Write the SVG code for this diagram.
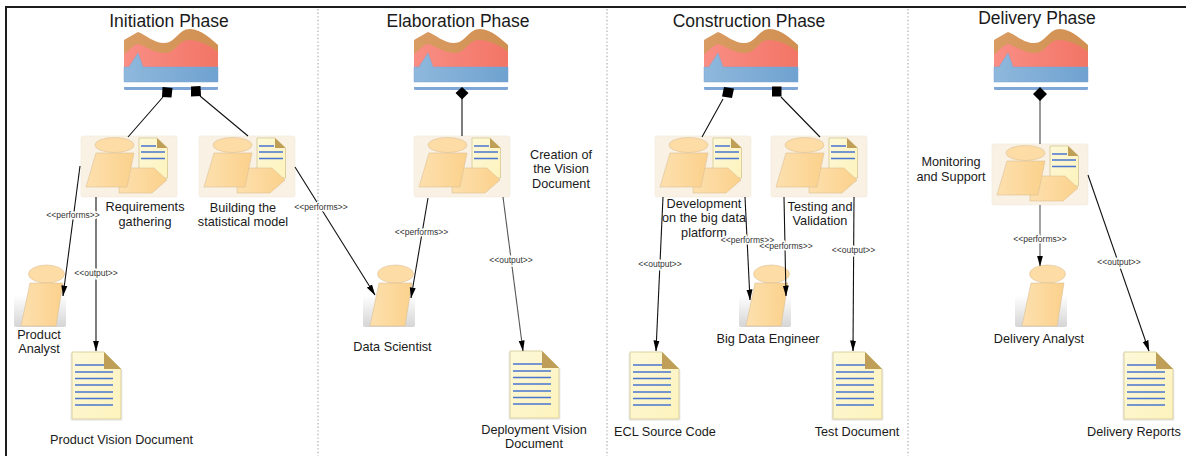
<svg xmlns="http://www.w3.org/2000/svg" width="1186" height="456" viewBox="0 0 1186 456">
<style>
text{font-family:"Liberation Sans",Arial,sans-serif;fill:#1a1a1a}
.t{font-size:17.500px;text-anchor:middle}
.n{font-size:12.700px;text-anchor:middle}
.e{font-size:8.500px;text-anchor:middle;stroke:#fff;stroke-width:3px;paint-order:stroke;fill:#333}
.c{fill:none;stroke:#111;stroke-width:1.100}
.g{fill:none;stroke:#555;stroke-width:1.200}
.a{fill:none;stroke:#111;stroke-width:1.100;marker-end:url(#arr)}
.sep{stroke:#bbb;stroke-width:1.400;stroke-dasharray:1.400 2.200}
.y{fill:url(#gy);stroke:#dcc095;stroke-width:.6}
.e2{fill:#fddca6;stroke:#dcc095;stroke-width:.6}
.d{fill:url(#gd);stroke:#cfc288;stroke-width:.7}
.l{stroke:#4a76cf;stroke-width:1.500;fill:none}
</style>
<defs>
<linearGradient id="gy"><stop offset="0" stop-color="#fde0ae"/><stop offset="1" stop-color="#fbd18c"/></linearGradient>
<linearGradient id="gd" x1="0" y1="0" x2="1" y2="1"><stop offset="0" stop-color="#fdf8d8"/><stop offset="1" stop-color="#fdf3bd"/></linearGradient>
<linearGradient id="gb"><stop offset="0" stop-color="#8fb8dc"/><stop offset="1" stop-color="#6fa2d0"/></linearGradient>
<linearGradient id="gr"><stop offset="0" stop-color="#f98e85"/><stop offset="1" stop-color="#f27566"/></linearGradient>
<linearGradient id="go"><stop offset="0" stop-color="#d99c62"/><stop offset="1" stop-color="#d19052"/></linearGradient>
<linearGradient id="gs" x1="0" y1="0" x2="0" y2="1"><stop offset="0" stop-color="#fff"/><stop offset="1" stop-color="#d5d5d5"/></linearGradient>
<marker id="arr" markerUnits="userSpaceOnUse" markerWidth="11" markerHeight="7" refX="10.500" refY="3.500" orient="auto" viewBox="0 0 11 7"><path d="M0 .5L11 3.500 0 6.500Z" fill="#000"/></marker>
<g id="phase">
<path d="M0 11C5 8 10 5 14 3C22 6 30 14 40 14C52 14 54 0 66 0C77 0 87 10 94 16V53H0Z" fill="url(#go)"/>
<path d="M0 25C5 22 9 16 14 15C22 17 30 24 41 24C52 24 54 11 65 11C75 11 87 17 94 23V53H0Z" fill="url(#gr)"/>
<path d="M0 38H5L14 24 19 38H94V53H0Z" fill="url(#gb)" stroke="#7ea3d6" stroke-width=".5"/>
<path d="M0 58H94V60Q94 61 92 61H2Q0 61 0 60Z" fill="#7ea7d8"/>
</g>
<g id="task">
<rect x="0" y="0" width="96" height="61" rx="2" fill="#f9f1e3" stroke="#f1eadc" stroke-width=".6"/>
<ellipse cx="33.500" cy="9" rx="19.500" ry="7.500" class="e2"/>
<path d="M58 2H76L86.500 12V42H58Z" class="d"/>
<path d="M76 2L86.500 12H76Z" fill="#bf9f57"/>
<path d="M60 10H75M60 16H84M60 22.500H84" class="l"/>
<path d="M38 32H73L86 44 71 57H38Z" class="y"/>
<path d="M15 17H53L46 51H5Z" class="y"/>
</g>
<g id="actor">
<rect x="0" y="30" width="52" height="32" rx="2" fill="url(#gs)"/>
<ellipse cx="32.500" cy="9" rx="18" ry="9" class="e2"/>
<path d="M16 18H49L42 61H7Z" class="y"/>
</g>
<g id="doc">
<path d="M-1.500 1H32L50.500 18V69H-1.500Z" fill="#eee"/>
<path d="M0 0H32L49 17V67H0Z" class="d"/>
<path d="M32 0L49 17H32Z" fill="#bf9f57"/>
<path d="M3 13H32M3 20H41M3 26.500H41M3 33H41M3 40H41M3 46.500H41M3 53H41" class="l"/>
</g>
</defs>
<rect width="1186" height="456" fill="#fff"/>
<path d="M6 456V7H1186" fill="none" stroke="#1c1c1c" stroke-width="2"/>
<path class="sep" d="M318 9V456M607 9V456M908 9V456"/>

<g id="phase-initiation"><use href="#phase" x="124" y="29"/><text class="t" x="169" y="27">Initiation Phase</text></g>
<g id="phase-elaboration"><use href="#phase" x="414" y="29"/><text class="t" x="458" y="27">Elaboration Phase</text></g>
<g id="phase-construction"><use href="#phase" x="704" y="29"/><text class="t" x="749" y="27">Construction Phase</text></g>
<g id="phase-delivery"><use href="#phase" x="994" y="29"/><text class="t" x="1037" y="24">Delivery Phase</text></g>

<g id="task-requirements"><use href="#task" x="81" y="136"/><text class="n" x="145" y="211">Requirements</text><text class="n" x="145" y="226">gathering</text></g>
<g id="task-building"><use href="#task" x="199" y="136"/><text class="n" x="243" y="212">Building the</text><text class="n" x="243" y="226">statistical model</text></g>
<g id="task-vision"><use href="#task" x="414" y="136"/><text class="n" x="561" y="159">Creation of</text><text class="n" x="561" y="173">the Vision</text><text class="n" x="561" y="188">Document</text></g>
<g id="task-development"><use href="#task" x="655" y="136"/><text class="n" x="704" y="208">Development</text><text class="n" x="704" y="222">on the big data</text><text class="n" x="704" y="237">platform</text></g>
<g id="task-testing"><use href="#task" x="771" y="136"/><text class="n" x="820" y="211">Testing and</text><text class="n" x="820" y="225">Validation</text></g>
<g id="task-monitoring"><use href="#task" x="992" y="144"/><text class="n" x="951" y="166">Monitoring</text><text class="n" x="951" y="181">and Support</text></g>

<g id="actor-product"><use href="#actor" x="14" y="265"/><text class="n" x="39" y="339">Product</text><text class="n" x="39" y="353">Analyst</text></g>
<g id="actor-scientist"><use href="#actor" x="363" y="265"/><text class="n" x="392.500" y="351">Data Scientist</text></g>
<g id="actor-engineer"><use href="#actor" x="739" y="265"/><text class="n" x="768" y="343">Big Data Engineer</text></g>
<g id="actor-delivery"><use href="#actor" x="1015" y="265"/><text class="n" x="1039" y="343">Delivery Analyst</text></g>

<g id="doc-product"><use href="#doc" x="72" y="352"/><text class="n" x="121.500" y="444">Product Vision Document</text></g>
<g id="doc-deployment"><use href="#doc" x="510" y="351"/><text class="n" x="534" y="434">Deployment Vision</text><text class="n" x="534" y="448">Document</text></g>
<g id="doc-ecl"><use href="#doc" x="630" y="352"/><text class="n" x="665" y="436">ECL Source Code</text></g>
<g id="doc-test"><use href="#doc" x="833" y="352"/><text class="n" x="857" y="436">Test Document</text></g>
<g id="doc-reports"><use href="#doc" x="1124" y="352"/><text class="n" x="1134" y="436">Delivery Reports</text></g>

<g id="connectors">
<path class="c" d="M163 97L128 137M200 96L248 136M462 97V136M723 99L702 137M781 97L820 137"/>
<path class="g" d="M1040 98V144"/>
<path fill="#000" d="M162.500 87L172.500 88 171.500 97.500 162 97ZM191 86.500L200.500 86 201 96 191 96.500ZM462 87L468.500 93 462 99.500 455.500 93ZM724 87L734 88.500 732 98 722 96.500ZM772 86.500L781.500 86.500 781.500 96.500 772 96.500ZM1040 87L1047 94 1040 101 1033 94Z"/>
<path class="a" d="M80 166L63 296"/>
<path class="a" d="M96 197V351"/>
<path class="a" d="M295 167L375 295"/>
<path class="a" d="M428 198L411 298"/>
<path class="a" style="stroke:#555" d="M503 197L523 351"/>
<path class="a" d="M663 197L656 351"/>
<path class="a" d="M745 197L750 300"/>
<path class="a" d="M784 197L786 296"/>
<path class="a" d="M854 197L853 351"/>
<path class="a" style="stroke:#555" d="M1040 205V266"/>
<path class="a" d="M1088 175L1149 351"/>
<text class="e" x="73" y="218">&lt;&lt;performs&gt;&gt;</text>
<text class="e" x="96" y="276">&lt;&lt;output&gt;&gt;</text>
<text class="e" x="321" y="210">&lt;&lt;performs&gt;&gt;</text>
<text class="e" x="421.500" y="235">&lt;&lt;performs&gt;&gt;</text>
<text class="e" x="511" y="263">&lt;&lt;output&gt;&gt;</text>
<text class="e" x="660" y="267">&lt;&lt;output&gt;&gt;</text>
<text class="e" x="747.500" y="243">&lt;&lt;performs&gt;&gt;</text>
<text class="e" x="786" y="249">&lt;&lt;performs&gt;&gt;</text>
<text class="e" x="853.500" y="253">&lt;&lt;output&gt;&gt;</text>
<text class="e" x="1040" y="242">&lt;&lt;performs&gt;&gt;</text>
<text class="e" x="1119" y="265">&lt;&lt;output&gt;&gt;</text>
</g>
</svg>
